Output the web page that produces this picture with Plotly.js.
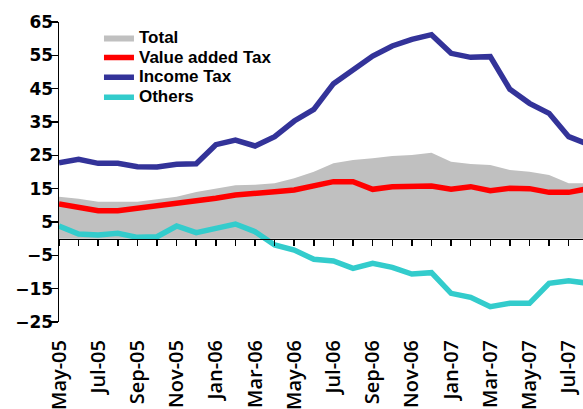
<!DOCTYPE html>
<html>
<head>
<meta charset="utf-8">
<script src="https://cdn.plot.ly/plotly-3.0.1.min.js"></script>
<style>html,body{margin:0;padding:0;background:#fff;}#chart{width:583px;height:409px;}</style>
</head>
<body>
<div id="chart"></div>
<script>
// Months (category axis)
var months = ["May-05","Jun-05","Jul-05","Aug-05","Sep-05","Oct-05","Nov-05","Dec-05",
  "Jan-06","Feb-06","Mar-06","Apr-06","May-06","Jun-06","Jul-06","Aug-06","Sep-06","Oct-06","Nov-06","Dec-06",
  "Jan-07","Feb-07","Mar-07","Apr-07","May-07","Jun-07","Jul-07","Aug-07"];
var tickLabels = ["May-05","Jul-05","Sep-05","Nov-05","Jan-06","Mar-06","May-06","Jul-06",
  "Sep-06","Nov-06","Jan-07","Mar-07","May-07","Jul-07"];
var yTicks = [-25,-15,-5,5,15,25,35,45,55,65];

var seriesNames = ["Total","Value added Tax","Income Tax","Others"];
var total = [12.6,12.0,11.1,11.0,11.1,11.8,12.6,14.0,15.1,16.0,16.2,16.6,18.1,20.1,22.6,23.6,24.1,24.8,25.1,25.8,23.1,22.4,22.1,20.6,20.1,19.1,16.6,16.6];
var vat = [10.4,9.4,8.4,8.4,9.1,9.6,10.6,11.3,12.1,13.1,13.8,14.1,14.6,16.0,17.1,17.1,14.8,15.6,15.8,15.8,14.8,15.6,14.4,15.1,15.0,13.9,13.9,15.0];
var incomeTax = [22.8,23.8,22.6,22.6,21.6,21.5,22.3,22.5,28.2,29.6,27.8,30.6,35.3,38.8,46.5,50.8,54.8,57.8,59.8,61.2,55.6,54.4,54.6,44.8,40.6,37.6,30.6,28.3];
var others = [3.8,1.4,1.1,1.6,0.4,0.6,3.8,1.8,3.1,4.4,2.1,-1.9,-3.4,-6.2,-6.7,-8.9,-7.4,-8.6,-10.6,-10.2,-16.4,-17.6,-20.4,-19.4,-19.4,-13.4,-12.6,-13.4];

function legendName(n){ return '<span style="font-size:17px">' + n + '</span>'; }

var traces = [
  {x: months, y: total, name: legendName(seriesNames[0]), type: 'scatter', mode: 'lines',
   fill: 'tozeroy', fillcolor: '#c0c0c0', line: {width: 0, color: '#c0c0c0'}, xaxis: 'x', yaxis: 'y'},
  {x: months, y: vat, name: legendName(seriesNames[1]), type: 'scatter', mode: 'lines',
   line: {width: 5.5, color: '#ff0000'}, xaxis: 'x', yaxis: 'y'},
  {x: months, y: incomeTax, name: legendName(seriesNames[2]), type: 'scatter', mode: 'lines',
   line: {width: 5.5, color: '#333399'}, xaxis: 'x', yaxis: 'y'},
  {x: months, y: others, name: legendName(seriesNames[3]), type: 'scatter', mode: 'lines',
   line: {width: 5.5, color: '#33cccc'}, xaxis: 'x2', yaxis: 'y'}
];

var layout = {
  width: 583, height: 409,
  margin: {l: 59, r: 0, t: 22, b: 87, pad: 0},
  paper_bgcolor: '#ffffff', plot_bgcolor: '#ffffff',
  showlegend: true,
  legend: {x: 0.0763, y: 0.998, xanchor: 'left', yanchor: 'top', bgcolor: 'rgba(0,0,0,0)',
    borderwidth: 0, tracegroupgap: 0,
    font: {family: 'Liberation Sans, Arial, sans-serif', size: 13, weight: 'bold', color: '#000'}},
  xaxis: {type: 'category', domain: [0, 1], range: [0, 26.73], anchor: 'free', position: 25/90,
    showline: true, linecolor: '#000', linewidth: 1.5, ticks: 'outside', ticklen: 6, tickwidth: 1.5,
    tickcolor: '#000', tickmode: 'array', tickvals: months, showticklabels: false,
    showgrid: false, zeroline: false, fixedrange: true},
  xaxis2: {type: 'category', overlaying: 'x', matches: 'x', anchor: 'free', position: 0,
    showline: false, ticks: '', tickmode: 'array', tickvals: tickLabels, ticktext: tickLabels,
    tickangle: -90, ticklabelstandoff: 13,
    tickfont: {family: 'Open Sans, sans-serif', size: 20, weight: 600, color: '#000'},
    showgrid: false, zeroline: false},
  yaxis: {range: [-25, 65], anchor: 'x', tickmode: 'array', tickvals: yTicks,
    showline: true, linecolor: '#000', linewidth: 1.5, ticks: 'outside', ticklen: 8, tickwidth: 1.5,
    tickcolor: '#000', ticklabelstandoff: -7,
    tickfont: {family: 'DejaVu Sans, sans-serif', size: 17, weight: 'bold', color: '#000'},
    showgrid: false, zeroline: false, fixedrange: true}
};

Plotly.newPlot('chart', traces, layout, {displayModeBar: false, staticPlot: true});
</script>
</body>
</html>
